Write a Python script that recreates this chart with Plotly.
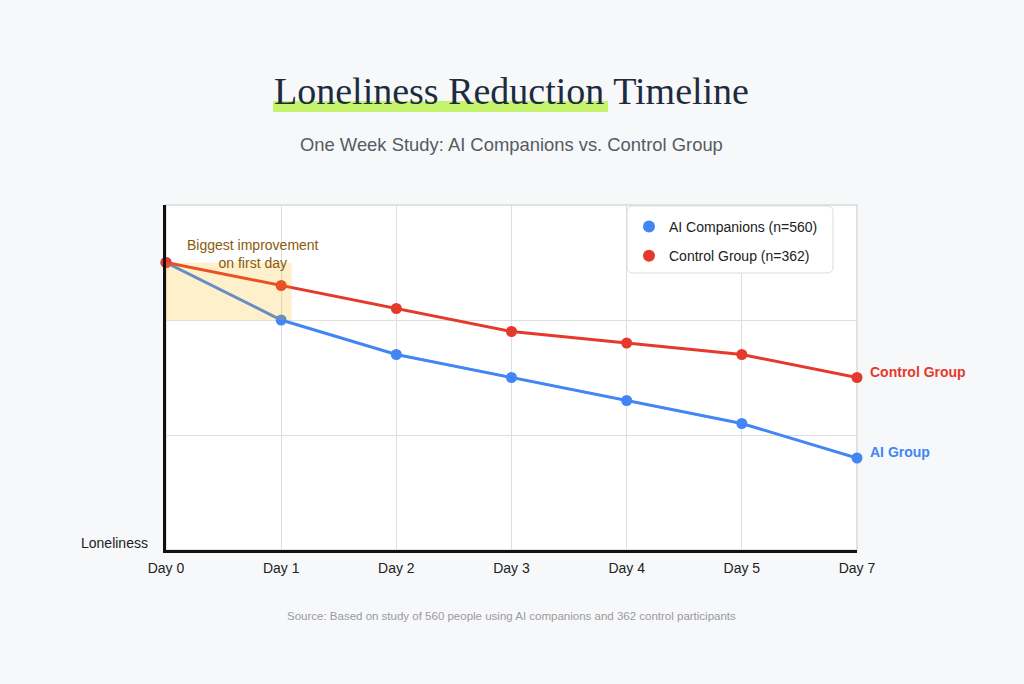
import plotly.graph_objects as go

categories = ["Day 0", "Day 1", "Day 2", "Day 3", "Day 4", "Day 5", "Day 7"]
ai_values = [25, 20, 17, 15, 13, 11, 8]
control_values = [25, 23, 21, 19, 18, 17, 15]
ai_name = "AI Companions (n=560)"
control_name = "Control Group (n=362)"

BLUE = "#4285f4"
RED = "#e5392b"
FONT = "Liberation Sans, Arial, sans-serif"

fig = go.Figure()

for name, vals, col in [(ai_name, ai_values, BLUE), (control_name, control_values, RED)]:
    fig.add_trace(go.Scatter(
        x=categories, y=vals, mode="lines+markers", name=name,
        line=dict(color=col, width=3), marker=dict(color=col, size=11),
        cliponaxis=False, showlegend=False, hoverinfo="x+y+name"))

# legend-only traces (marker only)
for i, (name, col) in enumerate([(ai_name, BLUE), (control_name, RED)]):
    fig.add_trace(go.Scatter(x=[None], y=[None], mode="markers", name=name,
                             legendgroup="g%d" % i,
                             marker=dict(color=col, size=12), showlegend=True))

W, H = 1024, 684
L, R, T, B = 166, 167, 205, 134
pw, ph = W - L - R, H - T - B

def px_x(p):
    return (p - L) / pw

def px_y(p):
    return (H - B - p) / ph

# plot frame (gray top/right)
fig.add_shape(type="rect", xref="x domain", yref="y domain", x0=0, x1=1, y0=0, y1=1,
              line=dict(color="#d9d9d9", width=1.5), fillcolor="white", layer="below")

# legend box (rounded)
bx0, bx1, by0, by1, rr = px_x(627), px_x(833), px_y(273), px_y(206), 6
rx, ry = rr / pw, rr / ph
path = (f"M {bx0+rx},{by1} L {bx1-rx},{by1} Q {bx1},{by1} {bx1},{by1-ry} "
        f"L {bx1},{by0+ry} Q {bx1},{by0} {bx1-rx},{by0} L {bx0+rx},{by0} "
        f"Q {bx0},{by0} {bx0},{by0+ry} L {bx0},{by1-ry} Q {bx0},{by1} {bx0+rx},{by1} Z")
fig.add_shape(type="path", xref="paper", yref="paper", path=path,
              line=dict(color="#dcdcdc", width=1), fillcolor="white", layer="above")

# highlight region for first day
fig.add_shape(type="rect", xref="x", yref="y", x0=0, x1=1.09,
              y0=ai_values[1], y1=ai_values[0],
              line=dict(width=0), fillcolor="rgba(255,180,0,0.2)", layer="above")

fig.add_annotation(x=px_x(253), y=px_y(254), xref="paper", yref="paper",
                   xanchor="center", yanchor="middle",
                   text="Biggest improvement<br>on first day", showarrow=False,
                   font=dict(family=FONT, size=14, color="#8a5a0a"), align="center")

# end labels
fig.add_annotation(x=categories[-1], y=control_values[-1], text="<b>Control Group</b>",
                   showarrow=False, xanchor="left", yanchor="middle", xshift=11, yshift=6,
                   font=dict(family=FONT, size=14, color=RED))
fig.add_annotation(x=categories[-1], y=ai_values[-1], text="<b>AI Group</b>",
                   showarrow=False, xanchor="left", yanchor="middle", xshift=11, yshift=6,
                   font=dict(family=FONT, size=14, color=BLUE))

# title highlight
fig.add_shape(type="rect", xref="paper", yref="paper",
              x0=px_x(273), x1=px_x(608), y0=px_y(112), y1=px_y(101),
              line=dict(width=0), fillcolor="#c6f36d", layer="below")
fig.add_annotation(x=0.5, y=px_y(91), xref="paper", yref="paper",
                   xanchor="center", yanchor="middle",
                   text="Loneliness Reduction Timeline", showarrow=False,
                   font=dict(family="Liberation Serif, serif", size=38, color="#1d2b3f"))
fig.add_annotation(x=0.5, y=px_y(145), xref="paper", yref="paper",
                   xanchor="center", yanchor="middle",
                   text="One Week Study: AI Companions vs. Control Group", showarrow=False,
                   font=dict(family=FONT, size=18.4, color="#555b63"))
fig.add_annotation(x=0.5, y=px_y(616), xref="paper", yref="paper",
                   xanchor="center", yanchor="middle",
                   text="Source: Based on study of 560 people using AI companions and 362 control participants",
                   showarrow=False, font=dict(family=FONT, size=11.5, color="#9a9a9a"))
fig.add_annotation(x=px_x(150), y=px_y(543), xref="paper", yref="paper",
                   text="Loneliness", showarrow=False, xanchor="right", yanchor="middle",
                   font=dict(family=FONT, size=14, color="#222"))

fig.update_layout(
    width=W, height=H,
    margin=dict(l=L, r=R, t=T, b=B, pad=0),
    paper_bgcolor="#f7f8fa", plot_bgcolor="white",
    font=dict(family=FONT, size=14, color="#222"),
    legend=dict(x=px_x(629), y=px_y(211), xanchor="left", yanchor="top",
                bgcolor="rgba(0,0,0,0)", borderwidth=0,
                font=dict(family=FONT, size=14, color="#222"),
                itemwidth=30, tracegroupgap=8),
    xaxis=dict(type="category", range=[0, 6], showgrid=True, gridcolor="#dedede", gridwidth=1,
               showline=True, linecolor="#111", linewidth=2.5, ticks="", ticklen=0,
               ticklabelstandoff=3,
               tickfont=dict(family=FONT, size=14, color="#222"), zeroline=False),
    yaxis=dict(range=[0, 30], tickvals=[10, 20], showticklabels=False, showgrid=True,
               gridcolor="#dedede", gridwidth=1, showline=True, linecolor="#111",
               linewidth=2.5, ticks="", zeroline=False),
    hovermode="closest",
)

fig.write_html("out.html", config={"displayModeBar": False},
               post_script="document.body.style.margin='0';document.body.style.background='#f7f8fa';")
